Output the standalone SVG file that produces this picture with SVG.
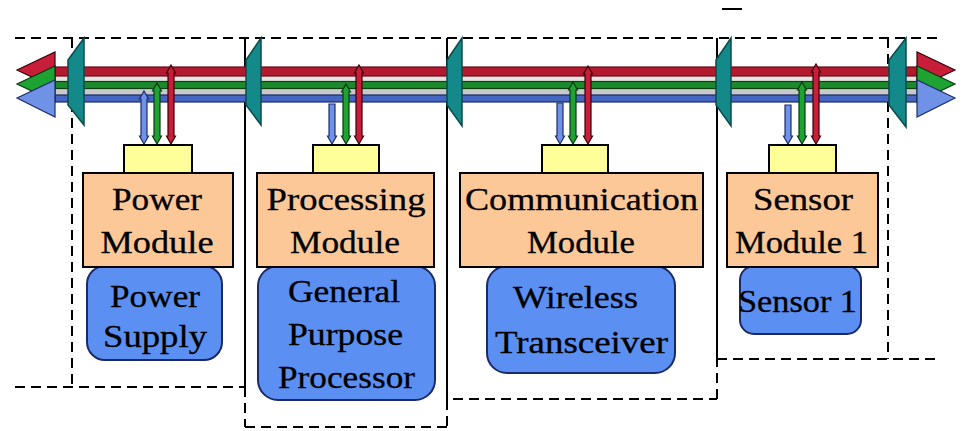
<svg xmlns="http://www.w3.org/2000/svg" width="962" height="431" viewBox="0 0 962 431">
<style>
.dash{stroke:#000;stroke-width:2;stroke-dasharray:10 6;fill:none}
.solid{stroke:#000;stroke-width:2;fill:none}
.teal{fill:#13898a;stroke:#0b4a4c;stroke-width:1.5}
.yel{fill:#ffff99;stroke:#000;stroke-width:2}
.org{fill:#fcc898;stroke:#000;stroke-width:2}
.blu{fill:#5b8ff2;stroke:#1b2a66;stroke-width:2}
.t{font-family:"Liberation Serif","Times New Roman",serif;font-size:31px;fill:#000;stroke:#000;stroke-width:0.3;text-anchor:middle}
.ar{stroke:#3a0008;stroke-width:1.2;fill:#c81e3a}
.ag{stroke:#073a10;stroke-width:1.2;fill:#1ea232}
.ab{stroke:#1c2c70;stroke-width:1.2;fill:#6f92e6}
</style>
<rect width="962" height="431" fill="#fff"/>
<g id="frames">
<line class="solid" x1="722" y1="9" x2="742" y2="9"/>
<line class="dash" x1="15" y1="38" x2="940" y2="38"/>
<line class="dash" x1="72" y1="38" x2="72" y2="385"/>
<line class="dash" x1="15" y1="387" x2="245" y2="387"/>
<line class="solid" x1="245" y1="38" x2="245" y2="387"/>
<line class="dash" x1="245" y1="387" x2="245" y2="427"/>
<line class="dash" x1="245" y1="427" x2="447" y2="427"/>
<line class="solid" x1="447" y1="38" x2="447" y2="400"/>
<line class="dash" x1="447" y1="400" x2="447" y2="431"/>
<line class="dash" x1="453" y1="399" x2="717" y2="399"/>
<line class="solid" x1="717" y1="38" x2="717" y2="357"/>
<line class="dash" x1="717" y1="357" x2="717" y2="399"/>
<line class="dash" x1="717" y1="359" x2="940" y2="359"/>
<line class="dash" x1="888" y1="38" x2="888" y2="359"/>
</g>
<g id="bus">
<rect x="55" y="76" width="863" height="6" fill="#e8e2e2"/>
<rect x="55" y="88" width="863" height="7" fill="#c9c9c9"/>
<rect x="55" y="67" width="863" height="9" fill="#b3192f" stroke="#6a0a18" stroke-width="1.2"/>
<rect x="55" y="81.5" width="863" height="7" fill="#1c8a2c" stroke="#0a4012" stroke-width="1.2"/>
<rect x="55" y="95" width="863" height="7" fill="#4566c0" stroke="#1a2a66" stroke-width="1.2"/>
<polygon class="ar" points="17,70 55,52 55,88"/>
<polygon class="ag" points="17,84 55,66 55,102"/>
<polygon class="ab" points="17,98 55,80 55,117"/>
<polygon class="ar" points="955,70 917,52 917,88"/>
<polygon class="ag" points="955,84 917,66 917,102"/>
<polygon class="ab" points="955,98 917,80 917,117"/>
<polygon class="teal" points="84,38 68,60 68,105 84,125"/>
<polygon class="teal" points="261,38 246,60 246,105 261,125"/>
<polygon class="teal" points="462,38 447,60 447,105 462,126"/>
<polygon class="teal" points="731,38 716,60 716,105 731,126"/>
<polygon class="teal" points="906,38 889,60 889,105 906,127"/>
</g>
<g id="connectors">
<polygon class="ab" points="144,91 148.5,99 147,99 147,136 148.5,136 144,144 139.5,136 141,136 141,99 139.5,99"/>
<polygon class="ag" points="157,83 161.5,91 160,91 160,136 161.5,136 157,144 152.5,136 154,136 154,91 152.5,91"/>
<polygon class="ar" points="171,65 175.5,73 174,73 174,136 175.5,136 171,144 166.5,136 168,136 168,73 166.5,73"/>
<polygon class="ab" points="329,104 335,104 335,136 336.5,136 332,144 327.5,136 329,136"/>
<polygon class="ag" points="346,84 350.5,92 349,92 349,136 350.5,136 346,144 341.5,136 343,136 343,92 341.5,92"/>
<polygon class="ar" points="359,65 363.5,73 362,73 362,136 363.5,136 359,144 354.5,136 356,136 356,73 354.5,73"/>
<polygon class="ab" points="557,103 563,103 563,136 564.5,136 560,144 555.5,136 557,136"/>
<polygon class="ag" points="573,82 577.5,90 576,90 576,136 577.5,136 573,144 568.5,136 570,136 570,90 568.5,90"/>
<polygon class="ar" points="588,66 592.5,74 591,74 591,136 592.5,136 588,144 583.5,136 585,136 585,74 583.5,74"/>
<polygon class="ab" points="785,105 791,105 791,136 792.5,136 788,144 783.5,136 785,136"/>
<polygon class="ag" points="802,82 806.5,90 805,90 805,136 806.5,136 802,144 797.5,136 799,136 799,90 797.5,90"/>
<polygon class="ar" points="816,64 820.5,72 819,72 819,136 820.5,136 816,144 811.5,136 813,136 813,72 811.5,72"/>
</g>
<g id="power">
<rect class="yel" x="124" y="145" width="68" height="28"/>
<rect class="blu" x="87" y="266" width="135" height="94" rx="18"/>
<rect class="org" x="83" y="173" width="150" height="94"/>
<text class="t" x="157" y="210" textLength="90" lengthAdjust="spacingAndGlyphs">Power</text>
<text class="t" x="157" y="253" textLength="113" lengthAdjust="spacingAndGlyphs">Module</text>
<text class="t" x="155" y="307" textLength="90" lengthAdjust="spacingAndGlyphs">Power</text>
<text class="t" x="155" y="347" textLength="104" lengthAdjust="spacingAndGlyphs">Supply</text>
</g>
<g id="processing">
<rect class="yel" x="313" y="145" width="66" height="28"/>
<rect class="blu" x="258" y="266" width="177" height="134" rx="20"/>
<rect class="org" x="257" y="173" width="177" height="94"/>
<text class="t" x="346" y="210" textLength="159" lengthAdjust="spacingAndGlyphs">Processing</text>
<text class="t" x="345" y="253" textLength="110" lengthAdjust="spacingAndGlyphs">Module</text>
<text class="t" x="344" y="302" textLength="112" lengthAdjust="spacingAndGlyphs">General</text>
<text class="t" x="345.5" y="345" textLength="115" lengthAdjust="spacingAndGlyphs">Purpose</text>
<text class="t" x="346.5" y="388" textLength="137" lengthAdjust="spacingAndGlyphs">Processor</text>
</g>
<g id="communication">
<rect class="yel" x="542" y="145" width="66" height="28"/>
<rect class="blu" x="487" y="266" width="188" height="107" rx="20"/>
<rect class="org" x="460" y="173" width="243" height="94"/>
<text class="t" x="581.5" y="210" textLength="233" lengthAdjust="spacingAndGlyphs">Communication</text>
<text class="t" x="581" y="253" textLength="108" lengthAdjust="spacingAndGlyphs">Module</text>
<text class="t" x="575.5" y="308" textLength="125" lengthAdjust="spacingAndGlyphs">Wireless</text>
<text class="t" x="581.5" y="353" textLength="173" lengthAdjust="spacingAndGlyphs">Transceiver</text>
</g>
<g id="sensor">
<rect class="yel" x="769" y="145" width="67" height="28"/>
<rect class="blu" x="740" y="266" width="121" height="68" rx="14"/>
<rect class="org" x="727" y="173" width="151" height="94"/>
<text class="t" x="803" y="210" textLength="100" lengthAdjust="spacingAndGlyphs">Sensor</text>
<text class="t" x="801.5" y="253" textLength="133" lengthAdjust="spacingAndGlyphs">Module 1</text>
<text class="t" x="797.5" y="312" textLength="119" lengthAdjust="spacingAndGlyphs">Sensor 1</text>
</g>
</svg>
